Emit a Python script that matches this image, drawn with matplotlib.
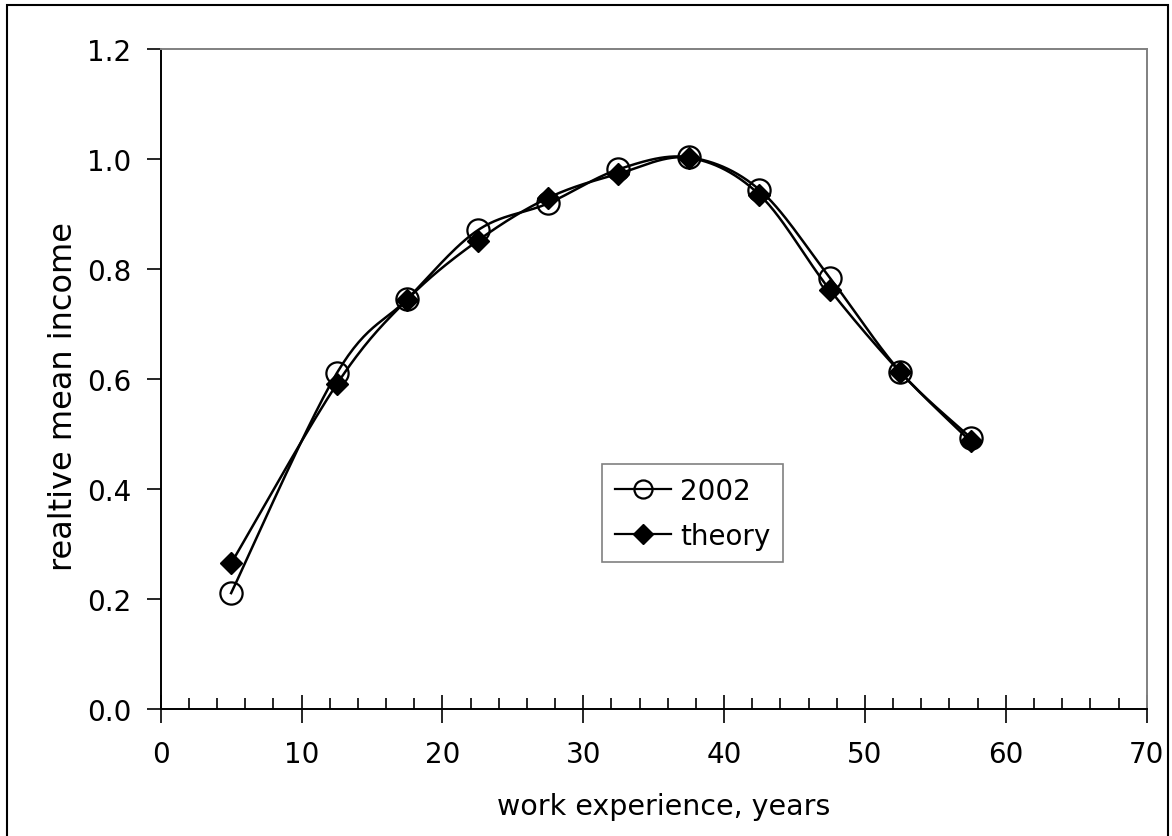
import matplotlib
matplotlib.use("Agg")
import matplotlib.pyplot as plt
import numpy as np
from matplotlib.lines import Line2D
from matplotlib.patches import Rectangle
from matplotlib.ticker import MultipleLocator, FormatStrFormatter

# the reference text is a wide Arial look, DejaVu Sans fits its size best
plt.rcParams["font.family"] = ["DejaVu Sans"]

# data
experience = [5, 12.5, 17.5, 22.5, 27.5, 32.5, 37.5, 42.5, 47.5, 52.5, 57.5]
income_2002 = [0.210, 0.610, 0.745, 0.870, 0.919, 0.981, 1.003, 0.944, 0.784, 0.613, 0.493]
income_theory = [0.264, 0.590, 0.744, 0.851, 0.929, 0.973, 1.002, 0.935, 0.762, 0.612, 0.486]


def excel_smooth(xs, ys, n=30):
    # Excel-like smoothed line: cubic Bezier per segment, tangents from neighbours
    p = np.column_stack([xs, ys]).astype(float)
    p = np.vstack([p[0], p, p[-1]])
    out = []
    t = np.linspace(0, 1, n)[:, None]
    for i in range(1, len(p) - 2):
        p0, p3 = p[i], p[i + 1]
        p1 = p0 + (p[i + 1] - p[i - 1]) / 6
        p2 = p3 - (p[i + 2] - p[i]) / 6
        seg = ((1 - t) ** 3) * p0 + 3 * ((1 - t) ** 2) * t * p1 + 3 * (1 - t) * t ** 2 * p2 + t ** 3 * p3
        out.append(seg if i == 1 else seg[1:])
    out = np.vstack(out)
    return out[:, 0], out[:, 1]


fig = plt.figure(figsize=(11.72, 8.37), dpi=100)
ax = fig.add_axes([0.1371, 0.1523, 0.8413, 0.788])

sx, sy = excel_smooth(experience, income_2002)
ax.plot(sx, sy, color="black", lw=1.8, zorder=3)
ax.plot(experience, income_2002, linestyle="none", marker="o", ms=16,
        mfc="none", mec="black", mew=1.6, zorder=4)

tx, ty = excel_smooth(experience, income_theory)
ax.plot(tx, ty, color="black", lw=1.8, zorder=5)
ax.plot(experience, income_theory, linestyle="none", marker="D", ms=11.5,
        mfc="black", mec="black", zorder=6)

ax.set_xlim(0, 70)
ax.set_ylim(0, 1.2)
ax.xaxis.set_major_locator(MultipleLocator(10))
ax.xaxis.set_minor_locator(MultipleLocator(2))
ax.yaxis.set_major_locator(MultipleLocator(0.2))
ax.yaxis.set_major_formatter(FormatStrFormatter("%.1f"))

ax.tick_params(axis="x", which="major", direction="inout", length=20, width=1.2,
               labelsize=20, pad=13)
ax.tick_params(axis="x", which="minor", direction="in", length=8, width=1.2)
ax.tick_params(axis="y", which="major", direction="out", length=10, width=1.2,
               labelsize=20, pad=11)

for side in ["left", "bottom"]:
    ax.spines[side].set_color("black")
    ax.spines[side].set_linewidth(1.4)
for side in ["top", "right"]:
    ax.spines[side].set_color("#808080")
    ax.spines[side].set_linewidth(1.4)

ax.set_xlabel("work experience, years", fontsize=20.5)
ax.set_ylabel("realtive mean income", fontsize=23)
ax.xaxis.label.set_verticalalignment("center")
ax.yaxis.label.set_verticalalignment("center")
ax.xaxis.set_label_coords(0.51, -0.148)
ax.yaxis.set_label_coords(-0.099, 0.475)

handles = [
    Line2D([], [], color="black", lw=1.6, marker="o", ms=13, mfc="none", mew=1.6),
    Line2D([], [], color="black", lw=1.6, marker="D", ms=10, mfc="black"),
]
leg = ax.legend(handles, ["2002", "theory"], loc="upper left",
                bbox_to_anchor=(0.4476, 0.3707), borderaxespad=0, fontsize=20,
                frameon=True, fancybox=False, edgecolor="#606060",
                handlelength=2.05, handletextpad=0.3, borderpad=0.45,
                labelspacing=0.62)
leg.get_frame().set_linewidth(1.2)

# outer chart border (bottom edge falls outside the picture)
fig.patches.append(Rectangle((0.006, -0.01), 0.991, 1.0028, transform=fig.transFigure,
                             fill=False, edgecolor="black", lw=1.5))

fig.savefig("out.png", dpi=100)
